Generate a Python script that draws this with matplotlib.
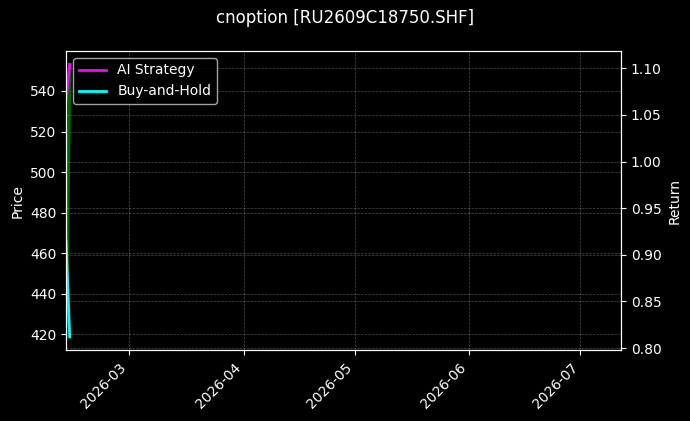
import pandas as pd
import matplotlib
matplotlib.use("Agg")
import matplotlib.pyplot as plt
import matplotlib.dates as mdates

# values
dates = pd.to_datetime(["2026-02-12", "2026-02-13"])
price = [418.8, 553.0]
ai_strategy = [1.065, 1.104]
buy_and_hold = [0.915, 0.812]
x_range = pd.to_datetime(["2026-02-12", "2026-07-12"])
title = "cnoption [RU2609C18750.SHF]"

plt.style.use("dark_background")

fig, ax1 = plt.subplots(figsize=(6.9, 4.21), dpi=100)
fig.subplots_adjust(left=0.0957, right=0.9, bottom=0.1675, top=0.879)

# price on the left axis
ax1.plot(dates, price, color="green", linewidth=2.5, alpha=0.85)
ax1.set_ylabel("Price")
ax1.grid(True, linestyle="--", linewidth=0.5, alpha=0.3)

# returns on the right axis
ax2 = ax1.twinx()
ax2.plot(dates, ai_strategy, color="magenta", linewidth=2, label="AI Strategy")
ax2.plot(dates, buy_and_hold, color="cyan", linewidth=2, label="Buy-and-Hold")
ax2.set_ylabel("Return")
ax2.grid(True, linestyle="--", linewidth=0.5, alpha=0.3)
ax2.legend(loc="upper left")

ax1.set_xlim(x_range[0], x_range[1])
ax1.xaxis.set_major_locator(mdates.MonthLocator())
ax1.xaxis.set_major_formatter(mdates.DateFormatter("%Y-%m"))
for lbl in ax1.get_xticklabels():
    lbl.set_rotation(45)
    lbl.set_ha("right")

fig.suptitle(title, fontsize=12, y=0.957, va="center")

plt.savefig("out.png", dpi=100)
